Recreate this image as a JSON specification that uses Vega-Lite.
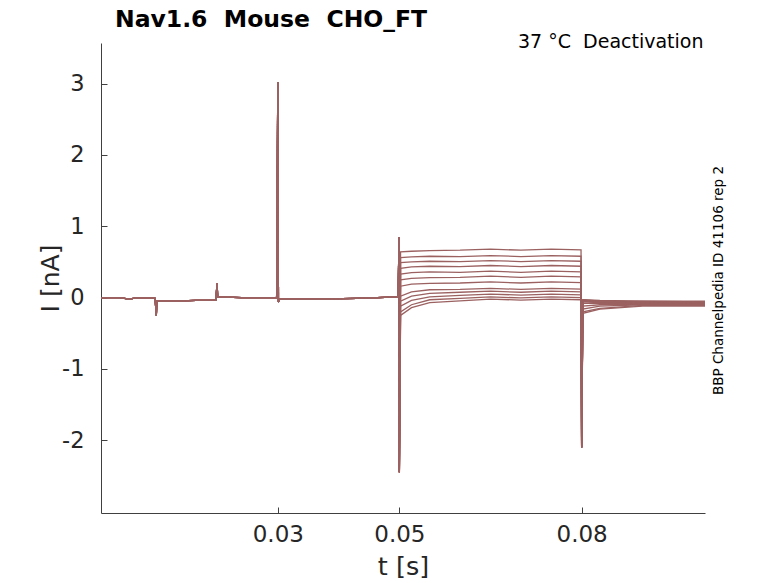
{
  "$schema": "https://vega.github.io/schema/vega-lite/v6.json",
  "width": 604,
  "height": 470,
  "autosize": "none",
  "padding": {"left": 101, "top": 43, "right": 73, "bottom": 70},
  "background": "white",
  "config": {"view": {"stroke": null}, "font": "DejaVu Sans"},
  "title": {"text": "Nav1.6\u00a0 Mouse\u00a0 CHO_FT", "anchor": "start", "frame": "group", "dx": 14, "offset": 1, "fontSize": 23.5, "fontWeight": "bold", "color": "#000000"},
  "data": {"values": [
    {"s":1,"t":0.0009,"i":0},{"s":1,"t":0.004,"i":0},{"s":1,"t":0.0055,"i":-0.02},{"s":1,"t":0.007,"i":0},{"s":1,"t":0.0098,"i":-0.01},{"s":1,"t":0.01,"i":-0.25},{"s":1,"t":0.0101,"i":-0.05},{"s":1,"t":0.013,"i":-0.05},{"s":1,"t":0.0165,"i":-0.04},{"s":1,"t":0.0198,"i":-0.04},{"s":1,"t":0.02,"i":0.2},{"s":1,"t":0.0201,"i":0.01},{"s":1,"t":0.024,"i":0},{"s":1,"t":0.0298,"i":0},{"s":1,"t":0.03,"i":3.02},{"s":1,"t":0.0301,"i":-0.06},{"s":1,"t":0.0303,"i":-0.02},{"s":1,"t":0.036,"i":-0.02},{"s":1,"t":0.043,"i":-0.01},{"s":1,"t":0.0498,"i":0.01},{"s":1,"t":0.04995,"i":0.85},{"s":1,"t":0.05,"i":-2.45},
    {"s":1,"t":0.0502,"i":0.64},{"s":1,"t":0.052,"i":0.65},{"s":1,"t":0.055,"i":0.66},{"s":1,"t":0.06,"i":0.665},{"s":1,"t":0.065,"i":0.68},{"s":1,"t":0.07,"i":0.665},{"s":1,"t":0.075,"i":0.68},{"s":1,"t":0.0799,"i":0.67},{"s":1,"t":0.08,"i":-2.1},{"s":1,"t":0.0802,"i":-0.03},{"s":1,"t":0.083,"i":-0.04},{"s":1,"t":0.09,"i":-0.05},{"s":1,"t":0.1003,"i":-0.05},

    {"s":2,"t":0.0009,"i":0},{"s":2,"t":0.004,"i":0},{"s":2,"t":0.0055,"i":-0.02},{"s":2,"t":0.007,"i":0},{"s":2,"t":0.0098,"i":-0.01},{"s":2,"t":0.01,"i":-0.25},{"s":2,"t":0.0101,"i":-0.05},{"s":2,"t":0.013,"i":-0.05},{"s":2,"t":0.0165,"i":-0.04},{"s":2,"t":0.0198,"i":-0.04},{"s":2,"t":0.02,"i":0.2},{"s":2,"t":0.0201,"i":0.01},{"s":2,"t":0.024,"i":0},{"s":2,"t":0.0298,"i":0},{"s":2,"t":0.03,"i":3.02},{"s":2,"t":0.0301,"i":-0.06},{"s":2,"t":0.0303,"i":-0.02},{"s":2,"t":0.036,"i":-0.02},{"s":2,"t":0.043,"i":-0.01},{"s":2,"t":0.0498,"i":0.01},{"s":2,"t":0.04995,"i":0.85},{"s":2,"t":0.05,"i":-2.45},
    {"s":2,"t":0.0502,"i":0.56},{"s":2,"t":0.052,"i":0.57},{"s":2,"t":0.055,"i":0.58},{"s":2,"t":0.06,"i":0.575},{"s":2,"t":0.065,"i":0.59},{"s":2,"t":0.07,"i":0.575},{"s":2,"t":0.075,"i":0.59},{"s":2,"t":0.0799,"i":0.58},{"s":2,"t":0.08,"i":-2.1},{"s":2,"t":0.0802,"i":-0.03},{"s":2,"t":0.083,"i":-0.05},{"s":2,"t":0.09,"i":-0.05},{"s":2,"t":0.1003,"i":-0.06},

    {"s":3,"t":0.0009,"i":0},{"s":3,"t":0.004,"i":0},{"s":3,"t":0.0055,"i":-0.02},{"s":3,"t":0.007,"i":0},{"s":3,"t":0.0098,"i":-0.01},{"s":3,"t":0.01,"i":-0.25},{"s":3,"t":0.0101,"i":-0.05},{"s":3,"t":0.013,"i":-0.05},{"s":3,"t":0.0165,"i":-0.04},{"s":3,"t":0.0198,"i":-0.04},{"s":3,"t":0.02,"i":0.2},{"s":3,"t":0.0201,"i":0.01},{"s":3,"t":0.024,"i":0},{"s":3,"t":0.0298,"i":0},{"s":3,"t":0.03,"i":3.02},{"s":3,"t":0.0301,"i":-0.06},{"s":3,"t":0.0303,"i":-0.02},{"s":3,"t":0.036,"i":-0.02},{"s":3,"t":0.043,"i":-0.01},{"s":3,"t":0.0498,"i":0.01},{"s":3,"t":0.04995,"i":0.85},{"s":3,"t":0.05,"i":-2.45},
    {"s":3,"t":0.0502,"i":0.49},{"s":3,"t":0.052,"i":0.5},{"s":3,"t":0.055,"i":0.51},{"s":3,"t":0.06,"i":0.505},{"s":3,"t":0.065,"i":0.52},{"s":3,"t":0.07,"i":0.505},{"s":3,"t":0.075,"i":0.52},{"s":3,"t":0.0799,"i":0.51},{"s":3,"t":0.08,"i":-2.1},{"s":3,"t":0.0802,"i":-0.04},{"s":3,"t":0.083,"i":-0.05},{"s":3,"t":0.09,"i":-0.06},{"s":3,"t":0.1003,"i":-0.06},

    {"s":4,"t":0.0009,"i":0},{"s":4,"t":0.004,"i":0},{"s":4,"t":0.0055,"i":-0.02},{"s":4,"t":0.007,"i":0},{"s":4,"t":0.0098,"i":-0.01},{"s":4,"t":0.01,"i":-0.25},{"s":4,"t":0.0101,"i":-0.05},{"s":4,"t":0.013,"i":-0.05},{"s":4,"t":0.0165,"i":-0.04},{"s":4,"t":0.0198,"i":-0.04},{"s":4,"t":0.02,"i":0.2},{"s":4,"t":0.0201,"i":0.01},{"s":4,"t":0.024,"i":0},{"s":4,"t":0.0298,"i":0},{"s":4,"t":0.03,"i":3.02},{"s":4,"t":0.0301,"i":-0.06},{"s":4,"t":0.0303,"i":-0.02},{"s":4,"t":0.036,"i":-0.02},{"s":4,"t":0.043,"i":-0.01},{"s":4,"t":0.0498,"i":0.01},{"s":4,"t":0.04995,"i":0.85},{"s":4,"t":0.05,"i":-2.45},
    {"s":4,"t":0.0502,"i":0.41},{"s":4,"t":0.052,"i":0.43},{"s":4,"t":0.055,"i":0.44},{"s":4,"t":0.06,"i":0.435},{"s":4,"t":0.065,"i":0.45},{"s":4,"t":0.07,"i":0.435},{"s":4,"t":0.075,"i":0.45},{"s":4,"t":0.0799,"i":0.44},{"s":4,"t":0.08,"i":-2.1},{"s":4,"t":0.0802,"i":-0.04},{"s":4,"t":0.083,"i":-0.06},{"s":4,"t":0.09,"i":-0.06},{"s":4,"t":0.1003,"i":-0.07},

    {"s":5,"t":0.0009,"i":0},{"s":5,"t":0.004,"i":0},{"s":5,"t":0.0055,"i":-0.02},{"s":5,"t":0.007,"i":0},{"s":5,"t":0.0098,"i":-0.01},{"s":5,"t":0.01,"i":-0.25},{"s":5,"t":0.0101,"i":-0.05},{"s":5,"t":0.013,"i":-0.05},{"s":5,"t":0.0165,"i":-0.04},{"s":5,"t":0.0198,"i":-0.04},{"s":5,"t":0.02,"i":0.2},{"s":5,"t":0.0201,"i":0.01},{"s":5,"t":0.024,"i":0},{"s":5,"t":0.0298,"i":0},{"s":5,"t":0.03,"i":3.02},{"s":5,"t":0.0301,"i":-0.06},{"s":5,"t":0.0303,"i":-0.02},{"s":5,"t":0.036,"i":-0.02},{"s":5,"t":0.043,"i":-0.01},{"s":5,"t":0.0498,"i":0.01},{"s":5,"t":0.04995,"i":0.85},{"s":5,"t":0.05,"i":-2.45},
    {"s":5,"t":0.0502,"i":0.33},{"s":5,"t":0.052,"i":0.35},{"s":5,"t":0.055,"i":0.36},{"s":5,"t":0.06,"i":0.355},{"s":5,"t":0.065,"i":0.37},{"s":5,"t":0.07,"i":0.355},{"s":5,"t":0.075,"i":0.37},{"s":5,"t":0.0799,"i":0.36},{"s":5,"t":0.08,"i":-2.1},{"s":5,"t":0.0802,"i":-0.05},{"s":5,"t":0.083,"i":-0.06},{"s":5,"t":0.09,"i":-0.07},{"s":5,"t":0.1003,"i":-0.07},

    {"s":6,"t":0.0009,"i":0},{"s":6,"t":0.004,"i":0},{"s":6,"t":0.0055,"i":-0.02},{"s":6,"t":0.007,"i":0},{"s":6,"t":0.0098,"i":-0.01},{"s":6,"t":0.01,"i":-0.25},{"s":6,"t":0.0101,"i":-0.05},{"s":6,"t":0.013,"i":-0.05},{"s":6,"t":0.0165,"i":-0.04},{"s":6,"t":0.0198,"i":-0.04},{"s":6,"t":0.02,"i":0.2},{"s":6,"t":0.0201,"i":0.01},{"s":6,"t":0.024,"i":0},{"s":6,"t":0.0298,"i":0},{"s":6,"t":0.03,"i":3.02},{"s":6,"t":0.0301,"i":-0.06},{"s":6,"t":0.0303,"i":-0.02},{"s":6,"t":0.036,"i":-0.02},{"s":6,"t":0.043,"i":-0.01},{"s":6,"t":0.0498,"i":0.01},{"s":6,"t":0.04995,"i":0.85},{"s":6,"t":0.05,"i":-2.45},
    {"s":6,"t":0.0502,"i":0.25},{"s":6,"t":0.052,"i":0.27},{"s":6,"t":0.055,"i":0.28},{"s":6,"t":0.06,"i":0.285},{"s":6,"t":0.065,"i":0.3},{"s":6,"t":0.07,"i":0.285},{"s":6,"t":0.075,"i":0.3},{"s":6,"t":0.0799,"i":0.29},{"s":6,"t":0.08,"i":-2.1},{"s":6,"t":0.0802,"i":-0.05},{"s":6,"t":0.083,"i":-0.07},{"s":6,"t":0.09,"i":-0.07},{"s":6,"t":0.1003,"i":-0.08},

    {"s":7,"t":0.0009,"i":0},{"s":7,"t":0.004,"i":0},{"s":7,"t":0.0055,"i":-0.02},{"s":7,"t":0.007,"i":0},{"s":7,"t":0.0098,"i":-0.01},{"s":7,"t":0.01,"i":-0.25},{"s":7,"t":0.0101,"i":-0.05},{"s":7,"t":0.013,"i":-0.05},{"s":7,"t":0.0165,"i":-0.04},{"s":7,"t":0.0198,"i":-0.04},{"s":7,"t":0.02,"i":0.2},{"s":7,"t":0.0201,"i":0.01},{"s":7,"t":0.024,"i":0},{"s":7,"t":0.0298,"i":0},{"s":7,"t":0.03,"i":3.02},{"s":7,"t":0.0301,"i":-0.06},{"s":7,"t":0.0303,"i":-0.02},{"s":7,"t":0.036,"i":-0.02},{"s":7,"t":0.043,"i":-0.01},{"s":7,"t":0.0498,"i":0.01},{"s":7,"t":0.04995,"i":0.85},{"s":7,"t":0.05,"i":-2.45},
    {"s":7,"t":0.0502,"i":0.16},{"s":7,"t":0.052,"i":0.19},{"s":7,"t":0.055,"i":0.2},{"s":7,"t":0.06,"i":0.205},{"s":7,"t":0.065,"i":0.22},{"s":7,"t":0.07,"i":0.205},{"s":7,"t":0.075,"i":0.22},{"s":7,"t":0.0799,"i":0.21},{"s":7,"t":0.08,"i":-2.1},{"s":7,"t":0.0802,"i":-0.06},{"s":7,"t":0.083,"i":-0.07},{"s":7,"t":0.09,"i":-0.08},{"s":7,"t":0.1003,"i":-0.08},

    {"s":8,"t":0.0009,"i":0},{"s":8,"t":0.004,"i":0},{"s":8,"t":0.0055,"i":-0.02},{"s":8,"t":0.007,"i":0},{"s":8,"t":0.0098,"i":-0.01},{"s":8,"t":0.01,"i":-0.25},{"s":8,"t":0.0101,"i":-0.05},{"s":8,"t":0.013,"i":-0.05},{"s":8,"t":0.0165,"i":-0.04},{"s":8,"t":0.0198,"i":-0.04},{"s":8,"t":0.02,"i":0.2},{"s":8,"t":0.0201,"i":0.01},{"s":8,"t":0.024,"i":0},{"s":8,"t":0.0298,"i":0},{"s":8,"t":0.03,"i":3.02},{"s":8,"t":0.0301,"i":-0.06},{"s":8,"t":0.0303,"i":-0.02},{"s":8,"t":0.036,"i":-0.02},{"s":8,"t":0.043,"i":-0.01},{"s":8,"t":0.0498,"i":0.01},{"s":8,"t":0.04995,"i":0.85},{"s":8,"t":0.05,"i":-2.45},
    {"s":8,"t":0.0502,"i":0.02},{"s":8,"t":0.052,"i":0.08},{"s":8,"t":0.055,"i":0.11},{"s":8,"t":0.06,"i":0.115},{"s":8,"t":0.065,"i":0.13},{"s":8,"t":0.07,"i":0.115},{"s":8,"t":0.075,"i":0.13},{"s":8,"t":0.0799,"i":0.12},{"s":8,"t":0.08,"i":-2.1},{"s":8,"t":0.0802,"i":-0.08},{"s":8,"t":0.083,"i":-0.08},{"s":8,"t":0.09,"i":-0.08},{"s":8,"t":0.1003,"i":-0.09},

    {"s":9,"t":0.0009,"i":0},{"s":9,"t":0.004,"i":0},{"s":9,"t":0.0055,"i":-0.02},{"s":9,"t":0.007,"i":0},{"s":9,"t":0.0098,"i":-0.01},{"s":9,"t":0.01,"i":-0.25},{"s":9,"t":0.0101,"i":-0.05},{"s":9,"t":0.013,"i":-0.05},{"s":9,"t":0.0165,"i":-0.04},{"s":9,"t":0.0198,"i":-0.04},{"s":9,"t":0.02,"i":0.2},{"s":9,"t":0.0201,"i":0.01},{"s":9,"t":0.024,"i":0},{"s":9,"t":0.0298,"i":0},{"s":9,"t":0.03,"i":3.02},{"s":9,"t":0.0301,"i":-0.06},{"s":9,"t":0.0303,"i":-0.02},{"s":9,"t":0.036,"i":-0.02},{"s":9,"t":0.043,"i":-0.01},{"s":9,"t":0.0498,"i":0.01},{"s":9,"t":0.04995,"i":0.85},{"s":9,"t":0.05,"i":-2.45},
    {"s":9,"t":0.0502,"i":-0.05},{"s":9,"t":0.052,"i":0.02},{"s":9,"t":0.055,"i":0.06},{"s":9,"t":0.06,"i":0.075},{"s":9,"t":0.065,"i":0.09},{"s":9,"t":0.07,"i":0.075},{"s":9,"t":0.075,"i":0.09},{"s":9,"t":0.0799,"i":0.08},{"s":9,"t":0.08,"i":-2.1},{"s":9,"t":0.0802,"i":-0.12},{"s":9,"t":0.083,"i":-0.1},{"s":9,"t":0.09,"i":-0.09},{"s":9,"t":0.1003,"i":-0.1},

    {"s":10,"t":0.0009,"i":0},{"s":10,"t":0.004,"i":0},{"s":10,"t":0.0055,"i":-0.02},{"s":10,"t":0.007,"i":0},{"s":10,"t":0.0098,"i":-0.01},{"s":10,"t":0.01,"i":-0.25},{"s":10,"t":0.0101,"i":-0.05},{"s":10,"t":0.013,"i":-0.05},{"s":10,"t":0.0165,"i":-0.04},{"s":10,"t":0.0198,"i":-0.04},{"s":10,"t":0.02,"i":0.2},{"s":10,"t":0.0201,"i":0.01},{"s":10,"t":0.024,"i":0},{"s":10,"t":0.0298,"i":0},{"s":10,"t":0.03,"i":3.02},{"s":10,"t":0.0301,"i":-0.06},{"s":10,"t":0.0303,"i":-0.02},{"s":10,"t":0.036,"i":-0.02},{"s":10,"t":0.043,"i":-0.01},{"s":10,"t":0.0498,"i":0.01},{"s":10,"t":0.04995,"i":0.85},{"s":10,"t":0.05,"i":-2.45},
    {"s":10,"t":0.0502,"i":-0.12},{"s":10,"t":0.052,"i":-0.04},{"s":10,"t":0.055,"i":0.01},{"s":10,"t":0.06,"i":0.03},{"s":10,"t":0.065,"i":0.05},{"s":10,"t":0.07,"i":0.035},{"s":10,"t":0.075,"i":0.05},{"s":10,"t":0.0799,"i":0.04},{"s":10,"t":0.08,"i":-2.1},{"s":10,"t":0.0802,"i":-0.16},{"s":10,"t":0.083,"i":-0.12},{"s":10,"t":0.09,"i":-0.1},{"s":10,"t":0.1003,"i":-0.1},

    {"s":11,"t":0.0009,"i":0},{"s":11,"t":0.004,"i":0},{"s":11,"t":0.0055,"i":-0.02},{"s":11,"t":0.007,"i":0},{"s":11,"t":0.0098,"i":-0.01},{"s":11,"t":0.01,"i":-0.25},{"s":11,"t":0.0101,"i":-0.05},{"s":11,"t":0.013,"i":-0.05},{"s":11,"t":0.0165,"i":-0.04},{"s":11,"t":0.0198,"i":-0.04},{"s":11,"t":0.02,"i":0.2},{"s":11,"t":0.0201,"i":0.01},{"s":11,"t":0.024,"i":0},{"s":11,"t":0.0298,"i":0},{"s":11,"t":0.03,"i":3.02},{"s":11,"t":0.0301,"i":-0.06},{"s":11,"t":0.0303,"i":-0.02},{"s":11,"t":0.036,"i":-0.02},{"s":11,"t":0.043,"i":-0.01},{"s":11,"t":0.0498,"i":0.01},{"s":11,"t":0.04995,"i":0.85},{"s":11,"t":0.05,"i":-2.45},
    {"s":11,"t":0.0502,"i":-0.2},{"s":11,"t":0.052,"i":-0.1},{"s":11,"t":0.055,"i":-0.03},{"s":11,"t":0.06,"i":-0.01},{"s":11,"t":0.065,"i":0.01},{"s":11,"t":0.07,"i":-0.005},{"s":11,"t":0.075,"i":0.01},{"s":11,"t":0.0799,"i":0},{"s":11,"t":0.08,"i":-2.1},{"s":11,"t":0.0802,"i":-0.2},{"s":11,"t":0.083,"i":-0.15},{"s":11,"t":0.09,"i":-0.11},{"s":11,"t":0.1003,"i":-0.11},

    {"s":12,"t":0.0009,"i":0},{"s":12,"t":0.004,"i":0},{"s":12,"t":0.0055,"i":-0.02},{"s":12,"t":0.007,"i":0},{"s":12,"t":0.0098,"i":-0.01},{"s":12,"t":0.01,"i":-0.25},{"s":12,"t":0.0101,"i":-0.05},{"s":12,"t":0.013,"i":-0.05},{"s":12,"t":0.0165,"i":-0.04},{"s":12,"t":0.0198,"i":-0.04},{"s":12,"t":0.02,"i":0.2},{"s":12,"t":0.0201,"i":0.01},{"s":12,"t":0.024,"i":0},{"s":12,"t":0.0298,"i":0},{"s":12,"t":0.03,"i":3.02},{"s":12,"t":0.0301,"i":-0.06},{"s":12,"t":0.0303,"i":-0.02},{"s":12,"t":0.036,"i":-0.02},{"s":12,"t":0.043,"i":-0.01},{"s":12,"t":0.0498,"i":0.01},{"s":12,"t":0.04995,"i":0.85},{"s":12,"t":0.05,"i":-2.45},
    {"s":12,"t":0.0502,"i":-0.25},{"s":12,"t":0.052,"i":-0.14},{"s":12,"t":0.055,"i":-0.07},{"s":12,"t":0.06,"i":-0.045},{"s":12,"t":0.065,"i":-0.02},{"s":12,"t":0.07,"i":-0.035},{"s":12,"t":0.075,"i":-0.02},{"s":12,"t":0.0799,"i":-0.03},{"s":12,"t":0.08,"i":-2.1},{"s":12,"t":0.0802,"i":-0.22},{"s":12,"t":0.083,"i":-0.16},{"s":12,"t":0.09,"i":-0.12},{"s":12,"t":0.1003,"i":-0.12}
  ]},
  "layer": [
    {
      "mark": {"type": "line", "color": "#9b6161", "strokeWidth": 1.3, "clip": true},
      "encoding": {
        "x": {"field": "t", "type": "quantitative",
          "scale": {"domain": [0.0009, 0.1003], "nice": false, "zero": false},
          "axis": {"values": [0.03, 0.05, 0.08], "format": ".2f", "title": "t [s]", "grid": false,
            "domainColor": "#404040", "tickColor": "#404040", "tickSize": -6, "labelPadding": 16,
            "labelFontSize": 23, "labelColor": "#262626", "labelFont": "DejaVu Sans",
            "titleFontSize": 25.5, "titleFontWeight": "normal", "titleColor": "#262626", "titleFont": "DejaVu Sans",
            "titleY": 61, "titleBaseline": "alphabetic"}},
        "y": {"field": "i", "type": "quantitative",
          "scale": {"domain": [-3.02, 3.57], "nice": false, "zero": false},
          "axis": {"values": [-2, -1, 0, 1, 2, 3], "labelExpr": "'' + datum.value", "title": "I [nA]", "grid": false,
            "domainColor": "#404040", "tickColor": "#404040", "tickSize": -6, "labelPadding": 23,
            "labelFontSize": 22.5, "labelColor": "#262626", "labelFont": "DejaVu Sans",
            "titleFontSize": 25, "titleFontWeight": "normal", "titleColor": "#262626", "titleFont": "DejaVu Sans",
            "titleX": -51, "titleBaseline": "middle"}},
        "detail": {"field": "s", "type": "nominal"}
      }
    },
    {
      "mark": {"type": "point", "opacity": 0},
      "encoding": {
        "x": {"field": "t", "type": "quantitative",
          "axis": {"orient": "top", "title": "37 °C\u00a0 Deactivation", "labels": false, "ticks": false, "domain": false, "grid": false,
            "titleFontSize": 19, "titleFontWeight": "normal", "titleColor": "#000000", "titleFont": "DejaVu Sans",
            "titleAnchor": "end", "titleAlign": "right", "titleX": 602, "titleY": 4, "titleBaseline": "alphabetic"}},
        "y": {"field": "i", "type": "quantitative",
          "axis": {"orient": "right", "title": "BBP Channelpedia ID 41106 rep 2", "labels": false, "ticks": false, "domain": false, "grid": false,
            "titleFontSize": 13.5, "titleFontWeight": "normal", "titleColor": "#000000", "titleFont": "DejaVu Sans",
            "titleAngle": 270, "titleX": 13, "titleY": 237, "titleAlign": "center", "titleBaseline": "middle"}}
      }
    }
  ],
  "resolve": {"axis": {"x": "independent", "y": "independent"}}
}
